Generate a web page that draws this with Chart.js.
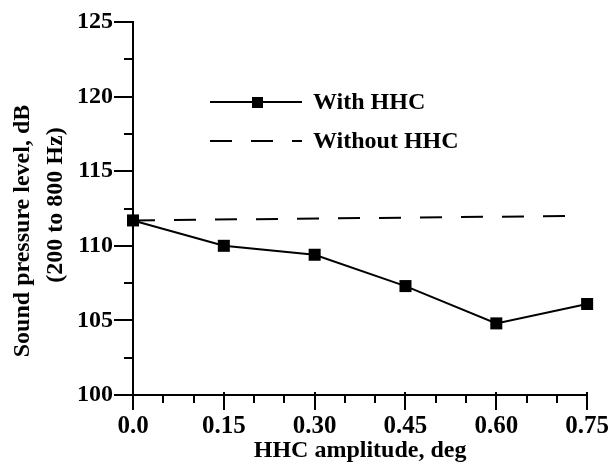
<!DOCTYPE html>
<html>
<head>
<meta charset="utf-8">
<script src="https://cdn.jsdelivr.net/npm/chart.js@4.4.1/dist/chart.umd.min.js"></script>
<style>
  html, body { margin: 0; padding: 0; background: #fff; }
  #wrap { width: 612px; height: 466px; }
</style>
</head>
<body>
<div id="wrap"><canvas id="chart" width="612" height="466"></canvas></div>
<script>
// data
const amplitude = [0, 0.15, 0.30, 0.45, 0.60, 0.75];
const withHHC = [111.7, 110.0, 109.4, 107.3, 104.8, 106.1];
const baselineAmp = [0, 0.72];
const withoutHHC = [111.7, 112.0];
const seriesLabels = ['With HHC', 'Without HHC'];
const yTitle = ['Sound pressure level, dB', '(200 to 800 Hz)'];
const xTitle = 'HHC amplitude, deg';

const FONT = "'Liberation Serif', 'Times New Roman', serif";
const INK = '#000';

// tick marks: long ones at labelled values, short ones between
const tickMarks = {
    id: 'tickMarks',
    afterDraw(chart) {
        const ctx = chart.ctx;
        const xs = chart.scales.x, ys = chart.scales.y;
        ctx.save();
        ctx.strokeStyle = INK;
        ctx.lineWidth = 2;
        ys.ticks.forEach(t => {
            const py = Math.round(ys.getPixelForValue(t.value));
            const len = t.value % 5 === 0 ? 19 : 9;
            ctx.beginPath();
            ctx.moveTo(ys.right, py);
            ctx.lineTo(ys.right - len, py);
            ctx.stroke();
        });
        xs.ticks.forEach(t => {
            const px = Math.round(xs.getPixelForValue(t.value));
            const major = Math.round(t.value * 100) % 15 === 0;
            ctx.beginPath();
            ctx.moveTo(px, xs.top - (major ? 3 : 0));
            ctx.lineTo(px, xs.top + (major ? 15 : 8));
            ctx.stroke();
        });
        ctx.restore();
    }
};

// axis titles and the legend inside the plot
const annotations = {
    id: 'annotations',
    afterDraw(chart) {
        const ctx = chart.ctx;
        const area = chart.chartArea;
        ctx.save();
        ctx.fillStyle = INK;
        ctx.font = 'bold 24px ' + FONT;
        ctx.textAlign = 'center';
        ctx.textBaseline = 'middle';
        ctx.fillText(xTitle, (area.left + area.right) / 2, 451);

        ctx.save();
        ctx.translate(23, 231);
        ctx.rotate(-Math.PI / 2);
        ctx.fillText(yTitle[0], 0, 0);
        ctx.restore();
        ctx.save();
        ctx.translate(56, 205);
        ctx.rotate(-Math.PI / 2);
        ctx.fillText(yTitle[1], 0, 0);
        ctx.restore();

        // legend
        const rows = [102, 141];
        chart.data.datasets.forEach((ds, i) => {
            const y = rows[i];
            ctx.strokeStyle = ds.borderColor;
            ctx.lineWidth = ds.borderWidth;
            ctx.setLineDash(ds.borderDash || []);
            ctx.beginPath();
            ctx.moveTo(210, y);
            ctx.lineTo(302, y);
            ctx.stroke();
            ctx.setLineDash([]);
            if (ds.pointRadius > 0) {
                ctx.fillStyle = ds.pointBackgroundColor;
                ctx.fillRect(252, y - 5, 11, 11);
            }
            ctx.fillStyle = INK;
            ctx.textAlign = 'left';
            ctx.fillText(ds.label, 313, y + 1);
        });
        ctx.restore();
    }
};

new Chart(document.getElementById('chart'), {
    type: 'line',
    data: {
        datasets: [
            {
                label: seriesLabels[0],
                data: amplitude.map((a, i) => ({ x: a, y: withHHC[i] })),
                borderColor: INK,
                borderWidth: 2,
                pointStyle: 'rect',
                pointRadius: 8.5,
                pointBackgroundColor: INK,
                pointBorderWidth: 0,
                tension: 0,
                clip: false
            },
            {
                label: seriesLabels[1],
                data: baselineAmp.map((a, i) => ({ x: a, y: withoutHHC[i] })),
                borderColor: INK,
                borderWidth: 2,
                borderDash: [22, 19],
                pointRadius: 0,
                tension: 0,
                clip: false
            }
        ]
    },
    options: {
        responsive: false,
        animation: false,
        layout: { padding: { top: 22, right: 24, left: 0, bottom: 0 } },
        plugins: { legend: { display: false }, tooltip: { enabled: false } },
        scales: {
            x: {
                type: 'linear',
                min: 0,
                max: 0.75,
                afterFit: s => { s.height = 71; },
                grid: { drawOnChartArea: false, drawTicks: true, tickLength: 14, tickColor: 'transparent' },
                border: { display: true, color: INK, width: 2 },
                ticks: {
                    stepSize: 0.05,
                    padding: 3,
                    autoSkip: false,
                    maxRotation: 0,
                    color: INK,
                    font: { family: FONT, size: 25, weight: 'bold' },
                    callback: v => {
                        const k = Math.round(v * 100);
                        if (k % 15 !== 0) return '';
                        return k === 0 ? '0.0' : (k / 100).toFixed(2);
                    }
                }
            },
            y: {
                min: 100,
                max: 125,
                afterFit: s => { s.width = 133; },
                grid: { drawOnChartArea: false, drawTicks: true, tickLength: 18, tickColor: 'transparent' },
                border: { display: true, color: INK, width: 2 },
                ticks: {
                    stepSize: 2.5,
                    padding: 2,
                    autoSkip: false,
                    color: INK,
                    font: { family: FONT, size: 24, weight: 'bold' },
                    callback: v => (v % 5 === 0 ? String(v) : '')
                }
            }
        }
    },
    plugins: [tickMarks, annotations]
});
</script>
</body>
</html>
